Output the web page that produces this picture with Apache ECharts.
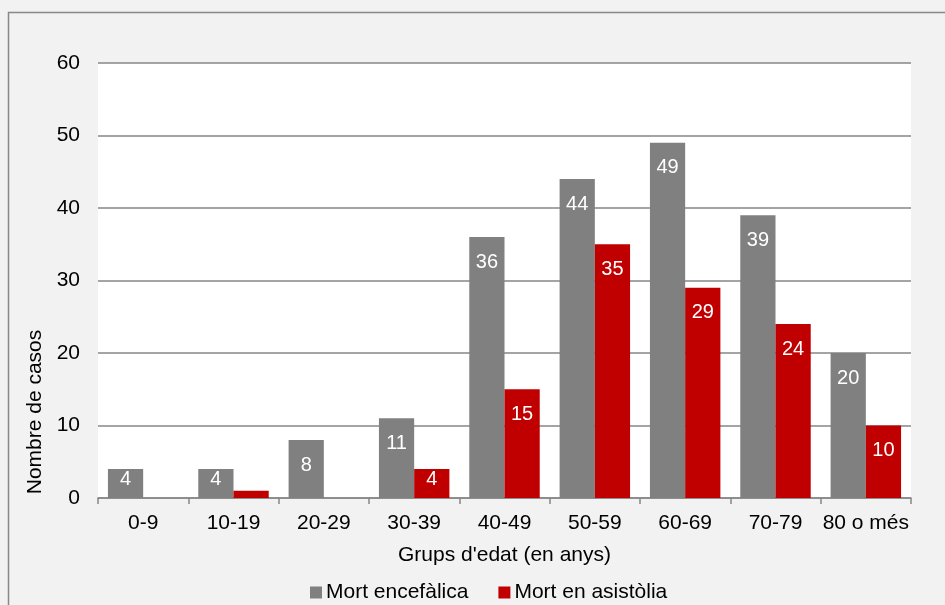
<!DOCTYPE html>
<html><head><meta charset="utf-8">
<script src="https://cdn.jsdelivr.net/npm/echarts@6/dist/echarts.min.js"></script>
<style>html,body{margin:0;padding:0;background:#F2F2F2}#c{width:945px;height:605px}</style>
</head><body><div id="c"></div>
<script>
var categories = ['0-9','10-19','20-29','30-39','40-49','50-59','60-69','70-79','80 o més'];
var encefalica = [4,4,8,11,36,44,49,39,20];
var asistolia = [0,1,0,4,15,35,29,24,10];
var seriesNames = ['Mort encefàlica','Mort en asistòlia'];
var yTicks = {min:0,max:60,interval:10};

var font = '"Liberation Sans", Arial, sans-serif';
var fs = 21;
var chart = echarts.init(document.getElementById('c'));
function lbl(){return {show:true,position:'insideTop',distance:15,color:'#fff',fontSize:20,fontFamily:font,
  formatter:function(p){return p.value>=2?p.value:'';}};}
function items(arr){return arr.map(function(v){
  return v<=5 ? {value:v,label:{distance:0}} : v;});}
chart.setOption({
  backgroundColor:'#F2F2F2',
  animation:false,
  graphic:[
    {type:'rect',shape:{x:8.5,y:12.5,width:945,height:600},style:{fill:'none',stroke:'#888',lineWidth:1.5},silent:true},
    {type:'text',x:35,y:412,rotation:Math.PI/2,style:{text:'Nombre de casos',fontFamily:font,fontSize:fs,fill:'#000',align:'center',verticalAlign:'middle'},silent:true}
  ],
  grid:{left:98,right:34,top:63,bottom:107,show:true,backgroundColor:'#fff',borderWidth:0},
  legend:{top:577,left:305,itemWidth:12,itemHeight:12,itemGap:30,icon:'rect',
    textStyle:{fontFamily:font,fontSize:fs,color:'#000',padding:[0,0,0,-1]},data:seriesNames},
  xAxis:{type:'category',data:categories,
    name:"Grups d'edat (en anys)",nameLocation:'middle',nameGap:47,
    nameTextStyle:{fontFamily:font,fontSize:fs,color:'#000'},
    axisLine:{lineStyle:{color:'#868686',width:1.5}},
    axisTick:{show:true,length:6,interval:0,lineStyle:{color:'#868686',width:1.5}},
    axisLabel:{interval:0,fontFamily:font,fontSize:fs,color:'#000',margin:15}},
  yAxis:{type:'value',min:yTicks.min,max:yTicks.max,interval:yTicks.interval,
    axisLine:{show:false},axisTick:{show:false},
    splitLine:{lineStyle:{color:'#868686',width:1.5}},
    axisLabel:{fontFamily:font,fontSize:fs,color:'#000',margin:18}},
  series:[
    {name:seriesNames[0],type:'bar',data:items(encefalica),barGap:'0%',barCategoryGap:'22%',
     itemStyle:{color:'#808080'},label:lbl()},
    {name:seriesNames[1],type:'bar',data:items(asistolia),
     itemStyle:{color:'#C00000'},label:lbl()}
  ]
});
</script></body></html>
